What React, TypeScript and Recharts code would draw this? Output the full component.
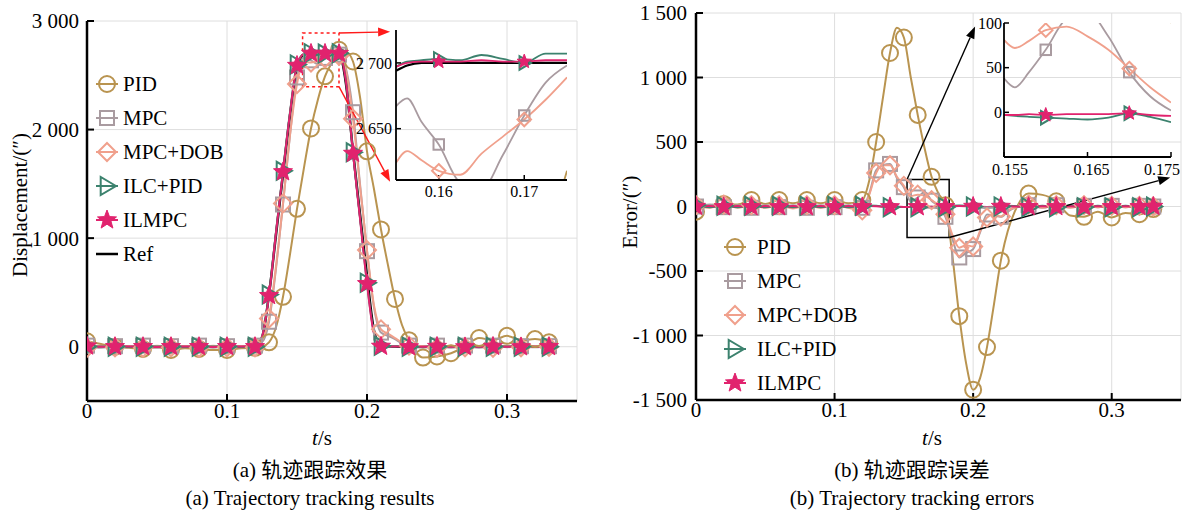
import React from "react";
import {
  LineChart,
  Line,
  XAxis,
  YAxis,
  CartesianGrid,
  ReferenceArea,
  ReferenceLine,
} from "recharts";

const FONT = "Liberation Serif, Times New Roman, Times, serif";
const FONT_CJK = "Liberation Serif, Times New Roman, Noto Sans CJK SC, serif";

// series meta
const names = ["PID", "MPC", "MPC+DOB", "ILC+PID", "ILMPC"];
const keys = ["pid", "mpc", "dob", "ilc", "ilmpc"];
const colors = ["#B99450", "#A99BA0", "#F0A08C", "#3C826E", "#E1236E"];
const shapes = ["circle", "square", "diamond", "triangle", "star"];

// time grid (s)
const time = [
  0, 0.01, 0.02, 0.03, 0.04, 0.05, 0.06, 0.07, 0.08, 0.09, 0.1, 0.11,
  0.12, 0.125, 0.13, 0.135, 0.14, 0.145, 0.15, 0.155, 0.16, 0.165, 0.17, 0.175,
  0.18, 0.185, 0.19, 0.195, 0.2, 0.205, 0.21, 0.215, 0.22, 0.225, 0.23,
  0.24, 0.25, 0.26, 0.27, 0.28, 0.29, 0.3, 0.31, 0.32, 0.33,
];

// (a) displacement
const refA = [
  0, 0, 0, 0, 0, 0, 0, 0, 0, 0, 0, 0,
  0, 80, 480, 1030, 1590, 2130, 2560, 2690, 2700, 2700, 2700, 2700, 2695, 2420, 1800, 1220, 650, 150, 5, 0, 0, 0, 0,
  0, 0, 0, 0, 0, 0, 0, 0, 0, 0,
];
const pidA = [
  50, 25, 0, -10, -20, -5, -30, -15, -20, -30, -30, -15,
  -10, 0, 40, 180, 460, 850, 1270, 1650, 2010, 2280, 2490, 2618, 2735, 2720, 2627, 2300, 1800, 1450, 1080, 750, 440, 200, 60,
  -100, -90, -60, 0, 80, 60, 100, 60, 70, 40,
];
const mpcA = [
  10, -10, 5, -5, 10, -10, 5, -5, 10, -10, 5, -5,
  10, 40, 230, 720, 1310, 1950, 2480, 2667, 2638, 2604, 2660, 2698, 2690, 2560, 2160, 1500, 880, 360, 130, 100, 70, 30, 10,
  -10, 10, -10, 10, -10, 10, -5, 5, -5, 5,
];
const dobA = [
  -10, 10, -5, 5, -10, 10, -5, 5, -10, 10, -5, 5,
  -5, 60, 260, 740, 1320, 1950, 2420, 2624, 2618, 2631, 2657, 2689, 2680, 2540, 2100, 1480, 890, 380, 160, 120, 80, 40, 10,
  5, -10, 10, -5, 5, -10, 10, -5, 5, 0,
];
const ilcA = [
  0, 3, 0, -3, 0, 3, 0, -3, 0, 3, 0, -3,
  0, 95, 480, 1060, 1620, 2160, 2600, 2697, 2703, 2706, 2700, 2707, 2702, 2450, 1790, 1190, 590, 130, 8, -3, 0, 3, 0,
  -3, 0, 3, 0, -3, 0, 3, 0, -3, 0,
];
const ilmpcA = [
  5, 0, 0, 2, 0, -2, 0, 2, 0, -2, 0, 2,
  0, 90, 470, 1050, 1610, 2150, 2590, 2697, 2701, 2702, 2701, 2702, 2700, 2440, 1780, 1180, 580, 120, 3, 0, 2, 0, -2,
  0, 2, 0, -2, 0, 2, 0, -2, 0, 0,
];

// (b) error
const pidB = [
  -40, 10, 20, 15, 50, 20, 50, 25, 50, 25, 50, 25,
  50, 200, 500, 850, 1190, 1385, 1310, 1000, 710, 450, 230, 100, 10, -380, -850, -1220, -1420, -1330, -1090, -760, -420, -190, -40,
  100, 90, 40, -70, -80, -40, -85, -50, -60, -20,
];
const mpcB = [
  0, 15, -5, 10, -10, 10, -5, 10, -10, 10, -5, 10,
  -10, 100, 280, 320, 330, 220, 150, 38, 70, 112, 45, 2, -80, -250, -395, -360, -330, -200, -62, -70, -80, -40, -10,
  10, -10, 10, -5, 5, -5, 5, -5, 5, 0,
];
const dobB = [
  10, -10, 15, -10, 10, -10, 10, -15, 10, -10, 10, -10,
  -30, 90, 260, 320, 320, 230, 160, 81, 92, 85, 49, 11, -60, -220, -320, -300, -310, -190, -85, -60, -78, -30, -10,
  15, -10, 10, -10, 10, -5, 5, -5, 5, 0,
];
const ilcB = [
  10, -5, 5, -5, 5, -5, 5, -5, 5, -5, 5, -5,
  5, 8, 5, 0, -5, -3, -3, -3, -6, -8, -1, -11, -5, 5, 8, 5, 0, -5, -8, -5, 0, 5, 3,
  -5, 5, -5, 5, -5, 5, -5, 5, -5, 0,
];
const ilmpcB = [
  0, 3, -3, 3, -3, 3, -3, 3, -3, 3, -3, 3,
  -3, 3, 2, -2, -3, -2, -3, -3, -3, -2, -1, -4, -2, 2, 3, 2, 0, -2, -3, -2, 0, 2, 0,
  -2, 2, -2, 2, -2, 2, -2, 2, -2, 0,
];

// zoomed windows
const insetT = [0.155, 0.1563, 0.158, 0.16, 0.1625, 0.165, 0.1675, 0.17, 0.1725, 0.175];
const insetRefA = [2694, 2698, 2700, 2700, 2700, 2700, 2700, 2700, 2700, 2700];
const insetPidA = [1650, 1745, 1870, 2010, 2150, 2280, 2390, 2490, 2560, 2618];
const insetMpcA = [2667, 2673, 2655, 2638, 2609, 2604, 2630, 2660, 2685, 2698];
const insetDobA = [2624, 2633, 2626, 2618, 2615, 2631, 2644, 2657, 2672, 2689];
const insetIlcA = [2697, 2701, 2702, 2703, 2702, 2706, 2703, 2700, 2707, 2707];
const insetIlmpcA = [2697, 2700, 2701, 2701, 2701, 2702, 2701, 2701, 2702, 2702];

const insetPidB = [1000, 920, 830, 710, 570, 450, 330, 230, 160, 100];
const insetMpcB = [38, 28, 45, 70, 105, 112, 85, 45, 18, 2];
const insetDobB = [81, 72, 80, 92, 96, 85, 70, 49, 28, 11];
const insetIlcB = [-3, -4, -5, -6, -7, -8, -6, -1, -5, -11];
const insetIlmpcB = [-3, -3, -2, -3, -2, -2, -2, -1, -3, -4];

// where markers sit
const marksA = [0, 0.02, 0.04, 0.06, 0.08, 0.1, 0.12, 0.13, 0.14, 0.15, 0.16, 0.17, 0.18, 0.19, 0.2, 0.21, 0.23, 0.25, 0.27, 0.29, 0.31, 0.33];
const marksAPid = [0, 0.02, 0.04, 0.06, 0.08, 0.1, 0.12, 0.13, 0.14, 0.15, 0.16, 0.17, 0.18, 0.19, 0.2, 0.21, 0.22, 0.23, 0.24, 0.25, 0.26, 0.28, 0.3, 0.32, 0.33];
const marksB = [0, 0.02, 0.04, 0.06, 0.08, 0.1, 0.12, 0.13, 0.14, 0.15, 0.16, 0.17, 0.18, 0.19, 0.2, 0.21, 0.22, 0.24, 0.26, 0.28, 0.3, 0.32, 0.33];
const marksBIl = [0, 0.02, 0.04, 0.06, 0.08, 0.1, 0.12, 0.14, 0.16, 0.18, 0.2, 0.22, 0.24, 0.26, 0.28, 0.3, 0.32, 0.33];
const marksInset = [0.16, 0.17];

const xTicks = [0, 0.1, 0.2, 0.3];
const yTicksA = [0, 1000, 2000, 3000];
const yTicksB = [-1500, -1000, -500, 0, 500, 1000, 1500];

const rowsA = time.map((t, i) => ({ t, ref: refA[i], pid: pidA[i], mpc: mpcA[i], dob: dobA[i], ilc: ilcA[i], ilmpc: ilmpcA[i] }));
const rowsB = time.map((t, i) => ({ t, pid: pidB[i], mpc: mpcB[i], dob: dobB[i], ilc: ilcB[i], ilmpc: ilmpcB[i] }));
const insetRowsA = insetT.map((t, i) => ({ t, ref: insetRefA[i], pid: insetPidA[i], mpc: insetMpcA[i], dob: insetDobA[i], ilc: insetIlcA[i], ilmpc: insetIlmpcA[i] }));
const insetRowsB = insetT.map((t, i) => ({ t, pid: insetPidB[i], mpc: insetMpcB[i], dob: insetDobB[i], ilc: insetIlcB[i], ilmpc: insetIlmpcB[i] }));

const fmtNum = (v: number) => {
  const a = Math.abs(v).toString();
  const b = a.length > 3 ? a.slice(0, -3) + " " + a.slice(-3) : a;
  return (v < 0 ? "-" : "") + b;
};
const fmtT = (v: number) => String(v);

function Marker({ shape, x, y, color, s = 1 }: { shape: string; x: number; y: number; color: string; s?: number }) {
  const sw = 2;
  if (shape === "circle") return <circle cx={x} cy={y} r={8 * s} fill="none" stroke={color} strokeWidth={sw} />;
  if (shape === "square") {
    const h = 7 * s;
    return <rect x={x - h} y={y - h} width={2 * h} height={2 * h} fill="none" stroke={color} strokeWidth={sw} />;
  }
  if (shape === "diamond") {
    const h = 9 * s;
    return <polygon points={`${x},${y - h} ${x + h},${y} ${x},${y + h} ${x - h},${y}`} fill="none" stroke={color} strokeWidth={sw} />;
  }
  if (shape === "triangle") {
    const h = 9 * s;
    return <polygon points={`${x + h},${y} ${x - 0.7 * h},${y - h} ${x - 0.7 * h},${y + h}`} fill="none" stroke={color} strokeWidth={sw} />;
  }
  const ro = 10 * s;
  const ri = 4.2 * s;
  const pts: string[] = [];
  for (let k = 0; k < 10; k++) {
    const r = k % 2 ? ri : ro;
    const a = -Math.PI / 2 + (k * Math.PI) / 5;
    pts.push(`${x + r * Math.cos(a)},${y + r * Math.sin(a)}`);
  }
  return <polygon points={pts.join(" ")} fill={color} stroke={color} strokeWidth={1} />;
}

const dotAt = (shape: string, color: string, marks: number[], s = 1) => (p: any) => {
  const hit = p.cx != null && p.cy != null && p.payload && marks.some((m) => Math.abs(m - p.payload.t) < 1e-6);
  return <g key={`d-${p.index}`}>{hit ? <Marker shape={shape} x={p.cx} y={p.cy} color={color} s={s} /> : null}</g>;
};

const arrow = (color: string) => (p: any) => {
  const { x1, y1, x2, y2 } = p;
  const a = Math.atan2(y2 - y1, x2 - x1);
  const L = 12;
  const W = 4.5;
  const bx = x2 - L * Math.cos(a);
  const by = y2 - L * Math.sin(a);
  const nx = -Math.sin(a) * W;
  const ny = Math.cos(a) * W;
  return (
    <g>
      <line x1={x1} y1={y1} x2={bx} y2={by} stroke={color} strokeWidth={1.4} />
      <polygon points={`${x2},${y2} ${bx + nx},${by + ny} ${bx - nx},${by - ny}`} fill={color} />
    </g>
  );
};

const seriesLines = (marksFor: number[][], s: number, width: number) =>
  keys.map((k, i) => (
    <Line
      key={k}
      dataKey={k}
      type="monotone"
      stroke={colors[i]}
      strokeWidth={width}
      dot={dotAt(shapes[i], colors[i], marksFor[i], s)}
      activeDot={false}
      isAnimationActive={false}
    />
  ));

const axisLine = { stroke: "#000", strokeWidth: 2.5 };
const tickLine = { stroke: "#000", strokeWidth: 2 };
const tickFont = { fill: "#000", fontSize: 21, fontFamily: FONT };
const insetAxisLine = { stroke: "#000", strokeWidth: 1.8 };
const insetTickLine = { stroke: "#000", strokeWidth: 1.5 };
const insetFont = { fill: "#000", fontSize: 16, fontFamily: FONT };

const InsetBTick = (p: any) => {
  const v = p.payload.value;
  const dx = v < 0.16 ? 6 : v > 0.17 ? -9 : 4;
  return (
    <text x={p.x + dx} y={p.y} dy="0.71em" textAnchor="middle" fontSize={16} fontFamily={FONT} fill="#000">
      {v}
    </text>
  );
};

function LegendRows({ x, y0, gap, textOff, half, withRef }: { x: number; y0: number; gap: number; textOff: number; half: number; withRef: boolean }) {
  const rows = names.map((n, i) => ({ n, c: colors[i], s: shapes[i] }));
  return (
    <g>
      {rows.map((r, i) => {
        const y = y0 + i * gap;
        return (
          <g key={r.n}>
            <line x1={x - half} y1={y} x2={x + half} y2={y} stroke={r.c} strokeWidth={2} />
            <Marker shape={r.s} x={x} y={y} color={r.c} />
            <text x={x + textOff} y={y} dy="0.35em" fontSize={21} fontFamily={FONT} fill="#000">
              {r.n}
            </text>
          </g>
        );
      })}
      {withRef ? (
        <g>
          <line x1={x - half} y1={y0 + 5 * gap} x2={x + half} y2={y0 + 5 * gap} stroke="#000" strokeWidth={2.5} />
          <text x={x + textOff} y={y0 + 5 * gap} dy="0.35em" fontSize={21} fontFamily={FONT} fill="#000">
            Ref
          </text>
        </g>
      ) : null}
    </g>
  );
}

export default function App() {
  return (
    <div style={{ position: "absolute", left: 0, top: 0, width: 1182, height: 511, background: "#fff", overflow: "hidden", fontFamily: FONT }}>
      {/* (a) main */}
      <div style={{ position: "absolute", left: 0, top: 0 }}>
        <LineChart width={600} height={460} data={rowsA} margin={{ top: 21, right: 23, bottom: 29, left: 20 }}>
          <CartesianGrid stroke="#dedede" strokeWidth={1} />
          <XAxis dataKey="t" type="number" domain={[0, 0.35]} ticks={xTicks} interval={0} allowDataOverflow height={30}
            tickSize={-7} tickMargin={9} axisLine={axisLine} tickLine={tickLine} tick={tickFont} tickFormatter={fmtT} />
          <XAxis xAxisId="top" orientation="top" dataKey="t" type="number" domain={[0, 0.35]} ticks={xTicks} interval={0}
            allowDataOverflow height={0} tick={false} tickSize={-7} axisLine={axisLine} tickLine={tickLine} />
          <YAxis type="number" domain={[-500, 3000]} ticks={yTicksA} interval={0} allowDataOverflow width={67}
            tickSize={-7} tickMargin={15} axisLine={axisLine} tickLine={tickLine} tick={tickFont} tickFormatter={fmtNum} />
          <YAxis yAxisId="right" orientation="right" type="number" domain={[-500, 3000]} ticks={yTicksA} interval={0}
            allowDataOverflow width={0} tick={false} tickSize={-7} axisLine={axisLine} tickLine={tickLine} />
          <Line dataKey="ref" type="monotone" stroke="#000" strokeWidth={2.5} dot={false} activeDot={false} isAnimationActive={false} />
          {seriesLines([marksAPid, marksA, marksA, marksA, marksA], 1, 2)}
          <ReferenceArea x1={0.154} x2={0.18} y1={2395} y2={2890} fill="none" stroke="#ff1a1a" strokeWidth={1.5}
            strokeDasharray="3 3" ifOverflow="visible" />
          <ReferenceLine segment={[{ x: 0.18, y: 2890 }, { x: 0.2165, y: 2900 }]} shape={arrow("#ff1a1a")} ifOverflow="visible" />
          <ReferenceLine segment={[{ x: 0.18, y: 2395 }, { x: 0.2165, y: 1520 }]} shape={arrow("#ff1a1a")} ifOverflow="visible" />
        </LineChart>
      </div>

      {/* (a) inset */}
      <div style={{ position: "absolute", left: 330, top: 20 }}>
        <LineChart width={250} height={190} data={insetRowsA} margin={{ top: 10, right: 13, bottom: 5, left: 10 }}>
          <XAxis dataKey="t" type="number" domain={[0.155, 0.175]} ticks={[0.16, 0.17]} interval={0} allowDataOverflow height={25}
            tickSize={-5} tickMargin={11} axisLine={insetAxisLine} tickLine={insetTickLine} tick={insetFont} tickFormatter={fmtT} />
          <XAxis xAxisId="top" orientation="top" dataKey="t" type="number" domain={[0.155, 0.175]} ticks={[0.16, 0.17]} interval={0}
            allowDataOverflow height={0} tick={false} tickSize={-5} axisLine={insetAxisLine} tickLine={insetTickLine} />
          <YAxis type="number" domain={[2611, 2725]} ticks={[2650, 2700]} interval={0} allowDataOverflow width={56}
            tickSize={-5} tickMargin={9} axisLine={insetAxisLine} tickLine={insetTickLine} tick={insetFont} tickFormatter={fmtNum} />
          <YAxis yAxisId="right" orientation="right" type="number" domain={[2611, 2725]} ticks={[2650, 2700]} interval={0}
            allowDataOverflow width={0} tick={false} tickSize={-5} axisLine={insetAxisLine} tickLine={insetTickLine} />
          <Line dataKey="ref" type="monotone" stroke="#000" strokeWidth={2.2} dot={false} activeDot={false} isAnimationActive={false} />
          {seriesLines([[], marksInset, marksInset, marksInset, marksInset], 0.75, 1.8)}
        </LineChart>
      </div>

      {/* (b) main */}
      <div style={{ position: "absolute", left: 600, top: 0 }}>
        <LineChart width={582} height={460} data={rowsB} margin={{ top: 13, right: 1, bottom: 30, left: 20 }}>
          <CartesianGrid stroke="#dedede" strokeWidth={1} />
          <XAxis dataKey="t" type="number" domain={[0, 0.35]} ticks={xTicks} interval={0} allowDataOverflow height={30}
            tickSize={-7} tickMargin={9} axisLine={axisLine} tickLine={tickLine} tick={tickFont} tickFormatter={fmtT} />
          <XAxis xAxisId="top" orientation="top" dataKey="t" type="number" domain={[0, 0.35]} ticks={xTicks} interval={0}
            allowDataOverflow height={0} tick={false} tickSize={-7} axisLine={axisLine} tickLine={tickLine} />
          <YAxis type="number" domain={[-1500, 1500]} ticks={yTicksB} interval={0} allowDataOverflow width={76}
            tickSize={-7} tickMargin={16} axisLine={axisLine} tickLine={tickLine} tick={tickFont} tickFormatter={fmtNum} />
          <YAxis yAxisId="right" orientation="right" type="number" domain={[-1500, 1500]} ticks={yTicksB} interval={0}
            allowDataOverflow width={0} tick={false} tickSize={-7} axisLine={axisLine} tickLine={tickLine} />
          {seriesLines([marksB, marksB, marksB, marksBIl, marksBIl], 1, 2)}
          <ReferenceArea x1={0.1523} x2={0.1827} y1={-240} y2={209} fill="none" stroke="#000" strokeWidth={1.5} ifOverflow="visible" />
          <ReferenceLine segment={[{ x: 0.1523, y: 209 }, { x: 0.2014, y: 1395 }]} shape={arrow("#000")} ifOverflow="visible" />
          <ReferenceLine segment={[{ x: 0.1827, y: -240 }, { x: 0.3422, y: 225 }]} shape={arrow("#000")} ifOverflow="visible" />
        </LineChart>
      </div>

      {/* (b) inset */}
      <div style={{ position: "absolute", left: 960, top: 10 }}>
        <LineChart width={222} height={175} data={insetRowsB} margin={{ top: 13, right: 11, bottom: 3, left: 8 }}>
          <XAxis dataKey="t" type="number" domain={[0.155, 0.175]} ticks={[0.155, 0.165, 0.175]} interval={0} allowDataOverflow
            height={25} tickSize={-5} tickMargin={12} axisLine={insetAxisLine} tickLine={insetTickLine} tick={<InsetBTick />} />
          <XAxis xAxisId="top" orientation="top" dataKey="t" type="number" domain={[0.155, 0.175]} ticks={[0.16, 0.17]} interval={0}
            allowDataOverflow height={0} tick={false} tickSize={-5} axisLine={insetAxisLine} tickLine={insetTickLine} />
          <YAxis type="number" domain={[-50, 100]} ticks={[0, 50, 100]} interval={0} allowDataOverflow width={36}
            tickSize={-5} tickMargin={7} axisLine={insetAxisLine} tickLine={insetTickLine} tick={insetFont} tickFormatter={fmtNum} />
          <YAxis yAxisId="right" orientation="right" type="number" domain={[-50, 100]} ticks={[0, 50, 100]} interval={0}
            allowDataOverflow width={0} tick={false} tickSize={-5} axisLine={insetAxisLine} tickLine={insetTickLine} />
          {seriesLines([[], marksInset, marksInset, marksInset, marksInset], 0.75, 1.8)}
        </LineChart>
      </div>

      {/* labels, legends, captions */}
      <svg width={1182} height={511} style={{ position: "absolute", left: 0, top: 0, pointerEvents: "none" }}>
        <LegendRows x={107} y0={84} gap={34} textOff={16} half={11} withRef />
        <LegendRows x={735} y0={247} gap={34} textOff={22} half={11} withRef={false} />

        <text x={20} y={205} transform="rotate(-90 20 205)" textAnchor="middle" dy="0.35em" fontSize={21} fontFamily={FONT}>
          Displacement/(″)
        </text>
        <text x={630} y={212} transform="rotate(-90 630 212)" textAnchor="middle" dy="0.35em" fontSize={21} fontFamily={FONT}>
          Error/(″)
        </text>

        <text x={322} y={438} textAnchor="middle" dy="0.35em" fontSize={21} fontFamily={FONT}>
          <tspan fontStyle="italic">t</tspan>/s
        </text>
        <text x={932} y={438} textAnchor="middle" dy="0.35em" fontSize={21} fontFamily={FONT}>
          <tspan fontStyle="italic">t</tspan>/s
        </text>

        <text x={310} y={470} textAnchor="middle" dy="0.35em" fontSize={21} fontFamily={FONT_CJK}>(a) 轨迹跟踪效果</text>
        <text x={310} y={498} textAnchor="middle" dy="0.35em" fontSize={21} fontFamily={FONT}>(a) Trajectory tracking results</text>
        <text x={912} y={470} textAnchor="middle" dy="0.35em" fontSize={21} fontFamily={FONT_CJK}>(b) 轨迹跟踪误差</text>
        <text x={912} y={498} textAnchor="middle" dy="0.35em" fontSize={21} fontFamily={FONT}>(b) Trajectory tracking errors</text>
      </svg>
    </div>
  );
}
